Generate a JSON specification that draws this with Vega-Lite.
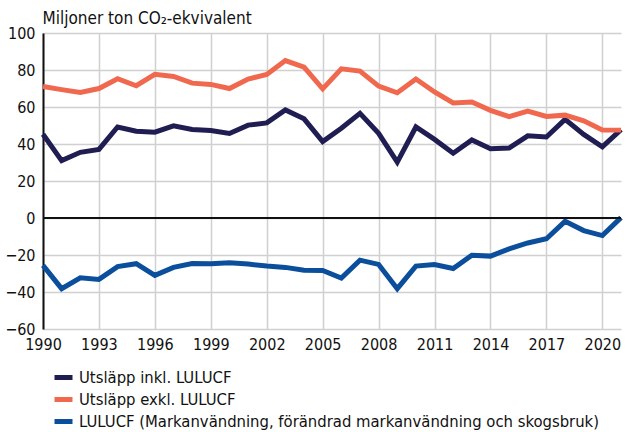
{
  "$schema": "https://vega.github.io/schema/vega-lite/v6.json",
  "width": 578,
  "height": 296,
  "autosize": {"type": "none"},
  "padding": {"left": 43, "top": 33, "right": 22, "bottom": 103},
  "background": "white",
  "config": {
    "font": "DejaVu Sans Condensed, Roboto Condensed, Roboto, sans-serif",
    "view": {"stroke": null}
  },
  "datasets": {
    "main": [
      {"year":1990,"series":"Utsläpp inkl. LULUCF","value":45.3},
      {"year":1991,"series":"Utsläpp inkl. LULUCF","value":31.0},
      {"year":1992,"series":"Utsläpp inkl. LULUCF","value":35.5},
      {"year":1993,"series":"Utsläpp inkl. LULUCF","value":37.1},
      {"year":1994,"series":"Utsläpp inkl. LULUCF","value":49.2},
      {"year":1995,"series":"Utsläpp inkl. LULUCF","value":46.9},
      {"year":1996,"series":"Utsläpp inkl. LULUCF","value":46.4},
      {"year":1997,"series":"Utsläpp inkl. LULUCF","value":49.8},
      {"year":1998,"series":"Utsläpp inkl. LULUCF","value":47.8},
      {"year":1999,"series":"Utsläpp inkl. LULUCF","value":47.3},
      {"year":2000,"series":"Utsläpp inkl. LULUCF","value":45.7},
      {"year":2001,"series":"Utsläpp inkl. LULUCF","value":50.2},
      {"year":2002,"series":"Utsläpp inkl. LULUCF","value":51.4},
      {"year":2003,"series":"Utsläpp inkl. LULUCF","value":58.4},
      {"year":2004,"series":"Utsläpp inkl. LULUCF","value":53.6},
      {"year":2005,"series":"Utsläpp inkl. LULUCF","value":41.3},
      {"year":2006,"series":"Utsläpp inkl. LULUCF","value":48.5},
      {"year":2007,"series":"Utsläpp inkl. LULUCF","value":56.6},
      {"year":2008,"series":"Utsläpp inkl. LULUCF","value":45.8},
      {"year":2009,"series":"Utsläpp inkl. LULUCF","value":30.2},
      {"year":2010,"series":"Utsläpp inkl. LULUCF","value":49.2},
      {"year":2011,"series":"Utsläpp inkl. LULUCF","value":42.5},
      {"year":2012,"series":"Utsläpp inkl. LULUCF","value":35.0},
      {"year":2013,"series":"Utsläpp inkl. LULUCF","value":42.2},
      {"year":2014,"series":"Utsläpp inkl. LULUCF","value":37.4},
      {"year":2015,"series":"Utsläpp inkl. LULUCF","value":37.8},
      {"year":2016,"series":"Utsläpp inkl. LULUCF","value":44.4},
      {"year":2017,"series":"Utsläpp inkl. LULUCF","value":43.8},
      {"year":2018,"series":"Utsläpp inkl. LULUCF","value":53.3},
      {"year":2019,"series":"Utsläpp inkl. LULUCF","value":45.2},
      {"year":2020,"series":"Utsläpp inkl. LULUCF","value":38.5},
      {"year":2021,"series":"Utsläpp inkl. LULUCF","value":47.8},
      {"year":1990,"series":"Utsläpp exkl. LULUCF","value":71.1},
      {"year":1991,"series":"Utsläpp exkl. LULUCF","value":69.4},
      {"year":1992,"series":"Utsläpp exkl. LULUCF","value":67.9},
      {"year":1993,"series":"Utsläpp exkl. LULUCF","value":70.0},
      {"year":1994,"series":"Utsläpp exkl. LULUCF","value":75.3},
      {"year":1995,"series":"Utsläpp exkl. LULUCF","value":71.5},
      {"year":1996,"series":"Utsläpp exkl. LULUCF","value":77.7},
      {"year":1997,"series":"Utsläpp exkl. LULUCF","value":76.5},
      {"year":1998,"series":"Utsläpp exkl. LULUCF","value":72.9},
      {"year":1999,"series":"Utsläpp exkl. LULUCF","value":72.2},
      {"year":2000,"series":"Utsläpp exkl. LULUCF","value":70.0},
      {"year":2001,"series":"Utsläpp exkl. LULUCF","value":75.1},
      {"year":2002,"series":"Utsläpp exkl. LULUCF","value":77.6},
      {"year":2003,"series":"Utsläpp exkl. LULUCF","value":85.1},
      {"year":2004,"series":"Utsläpp exkl. LULUCF","value":81.5},
      {"year":2005,"series":"Utsläpp exkl. LULUCF","value":69.8},
      {"year":2006,"series":"Utsläpp exkl. LULUCF","value":80.6},
      {"year":2007,"series":"Utsläpp exkl. LULUCF","value":79.4},
      {"year":2008,"series":"Utsläpp exkl. LULUCF","value":71.3},
      {"year":2009,"series":"Utsläpp exkl. LULUCF","value":67.7},
      {"year":2010,"series":"Utsläpp exkl. LULUCF","value":75.1},
      {"year":2011,"series":"Utsläpp exkl. LULUCF","value":68.1},
      {"year":2012,"series":"Utsläpp exkl. LULUCF","value":62.2},
      {"year":2013,"series":"Utsläpp exkl. LULUCF","value":62.7},
      {"year":2014,"series":"Utsläpp exkl. LULUCF","value":58.2},
      {"year":2015,"series":"Utsläpp exkl. LULUCF","value":54.8},
      {"year":2016,"series":"Utsläpp exkl. LULUCF","value":57.8},
      {"year":2017,"series":"Utsläpp exkl. LULUCF","value":54.9},
      {"year":2018,"series":"Utsläpp exkl. LULUCF","value":55.6},
      {"year":2019,"series":"Utsläpp exkl. LULUCF","value":52.5},
      {"year":2020,"series":"Utsläpp exkl. LULUCF","value":47.6},
      {"year":2021,"series":"Utsläpp exkl. LULUCF","value":47.5},
      {"year":1990,"series":"LULUCF (Markanvändning, förändrad markanvändning och skogsbruk)","value":-25.6},
      {"year":1991,"series":"LULUCF (Markanvändning, förändrad markanvändning och skogsbruk)","value":-38.2},
      {"year":1992,"series":"LULUCF (Markanvändning, förändrad markanvändning och skogsbruk)","value":-32.3},
      {"year":1993,"series":"LULUCF (Markanvändning, förändrad markanvändning och skogsbruk)","value":-33.2},
      {"year":1994,"series":"LULUCF (Markanvändning, förändrad markanvändning och skogsbruk)","value":-26.3},
      {"year":1995,"series":"LULUCF (Markanvändning, förändrad markanvändning och skogsbruk)","value":-24.7},
      {"year":1996,"series":"LULUCF (Markanvändning, förändrad markanvändning och skogsbruk)","value":-31.0},
      {"year":1997,"series":"LULUCF (Markanvändning, förändrad markanvändning och skogsbruk)","value":-26.7},
      {"year":1998,"series":"LULUCF (Markanvändning, förändrad markanvändning och skogsbruk)","value":-24.6},
      {"year":1999,"series":"LULUCF (Markanvändning, förändrad markanvändning och skogsbruk)","value":-24.7},
      {"year":2000,"series":"LULUCF (Markanvändning, förändrad markanvändning och skogsbruk)","value":-24.2},
      {"year":2001,"series":"LULUCF (Markanvändning, förändrad markanvändning och skogsbruk)","value":-24.9},
      {"year":2002,"series":"LULUCF (Markanvändning, förändrad markanvändning och skogsbruk)","value":-26.0},
      {"year":2003,"series":"LULUCF (Markanvändning, förändrad markanvändning och skogsbruk)","value":-26.7},
      {"year":2004,"series":"LULUCF (Markanvändning, förändrad markanvändning och skogsbruk)","value":-28.2},
      {"year":2005,"series":"LULUCF (Markanvändning, förändrad markanvändning och skogsbruk)","value":-28.4},
      {"year":2006,"series":"LULUCF (Markanvändning, förändrad markanvändning och skogsbruk)","value":-32.5},
      {"year":2007,"series":"LULUCF (Markanvändning, förändrad markanvändning och skogsbruk)","value":-22.8},
      {"year":2008,"series":"LULUCF (Markanvändning, förändrad markanvändning och skogsbruk)","value":-25.1},
      {"year":2009,"series":"LULUCF (Markanvändning, förändrad markanvändning och skogsbruk)","value":-38.2},
      {"year":2010,"series":"LULUCF (Markanvändning, förändrad markanvändning och skogsbruk)","value":-26.0},
      {"year":2011,"series":"LULUCF (Markanvändning, förändrad markanvändning och skogsbruk)","value":-25.1},
      {"year":2012,"series":"LULUCF (Markanvändning, förändrad markanvändning och skogsbruk)","value":-27.3},
      {"year":2013,"series":"LULUCF (Markanvändning, förändrad markanvändning och skogsbruk)","value":-20.1},
      {"year":2014,"series":"LULUCF (Markanvändning, förändrad markanvändning och skogsbruk)","value":-20.6},
      {"year":2015,"series":"LULUCF (Markanvändning, förändrad markanvändning och skogsbruk)","value":-16.7},
      {"year":2016,"series":"LULUCF (Markanvändning, förändrad markanvändning och skogsbruk)","value":-13.5},
      {"year":2017,"series":"LULUCF (Markanvändning, förändrad markanvändning och skogsbruk)","value":-11.2},
      {"year":2018,"series":"LULUCF (Markanvändning, förändrad markanvändning och skogsbruk)","value":-1.8},
      {"year":2019,"series":"LULUCF (Markanvändning, förändrad markanvändning och skogsbruk)","value":-6.8},
      {"year":2020,"series":"LULUCF (Markanvändning, förändrad markanvändning och skogsbruk)","value":-9.5},
      {"year":2021,"series":"LULUCF (Markanvändning, förändrad markanvändning och skogsbruk)","value":0.2}
    ],
    "zero": [{"v": 0}]
  },
  "layer": [
    {
      "data": {"name": "main"},
      "mark": {"type": "line", "strokeWidth": 5, "strokeJoin": "miter", "strokeCap": "butt", "clip": false},
      "encoding": {
        "x": {
          "field": "year", "type": "quantitative",
          "scale": {"domain": [1990, 2021], "nice": false, "zero": false},
          "axis": {
            "values": [1990,1993,1996,1999,2002,2005,2008,2011,2014,2017,2020],
            "format": "d", "title": null, "domain": false, "ticks": false,
            "labelFontSize": 16, "labelColor": "#111", "labelPadding": 7,
            "grid": true, "gridColor": "#d0d0d0", "gridWidth": 1.5,
            "labelFlush": false, "labelOverlap": false
          }
        },
        "y": {
          "field": "value", "type": "quantitative",
          "scale": {"domain": [-60, 100], "nice": false},
          "axis": {
            "values": [-60,-40,-20,0,20,40,60,80,100],
            "title": "Miljoner ton CO₂-ekvivalent",
            "titleAngle": 0, "titleAlign": "left", "titleBaseline": "bottom",
            "titleX": -1, "titleY": -6, "titleFontSize": 17, "titleFontWeight": "normal", "titleColor": "#111",
            "domain": true, "domainColor": "#111", "domainWidth": 2,
            "ticks": false, "labelFontSize": 16, "labelColor": "#111", "labelPadding": 8,
            "labelOverlap": false, "labelFlush": false,
            "grid": true, "gridColor": "#d0d0d0", "gridWidth": 1.5
          }
        },
        "color": {
          "field": "series", "type": "nominal",
          "scale": {
            "domain": ["Utsläpp inkl. LULUCF", "Utsläpp exkl. LULUCF", "LULUCF (Markanvändning, förändrad markanvändning och skogsbruk)"],
            "range": ["#1f1d52", "#f0694f", "#0b4f9c"]
          },
          "legend": {
            "title": null, "orient": "none", "legendX": 9, "legendY": 333,
            "direction": "vertical",
            "symbolType": "stroke", "symbolSize": 324, "symbolStrokeWidth": 5,
            "labelFontSize": 16.5, "labelColor": "#111", "labelLimit": 700,
            "rowPadding": 0, "labelOffset": 4
          }
        }
      }
    },
    {
      "data": {"name": "zero"},
      "mark": {"type": "rule", "color": "#111", "strokeWidth": 2},
      "encoding": {
        "y": {
          "field": "v", "type": "quantitative",
          "axis": {
            "values": [-60,-40,-20,0,20,40,60,80,100],
            "title": "Miljoner ton CO₂-ekvivalent",
            "titleAngle": 0, "titleAlign": "left", "titleBaseline": "bottom",
            "titleX": -1, "titleY": -6, "titleFontSize": 17, "titleFontWeight": "normal", "titleColor": "#111",
            "domain": true, "domainColor": "#111", "domainWidth": 2,
            "ticks": false, "labelFontSize": 16, "labelColor": "#111", "labelPadding": 8,
            "labelOverlap": false, "labelFlush": false,
            "grid": true, "gridColor": "#d0d0d0", "gridWidth": 1.5
          }
        }
      }
    }
  ]
}
